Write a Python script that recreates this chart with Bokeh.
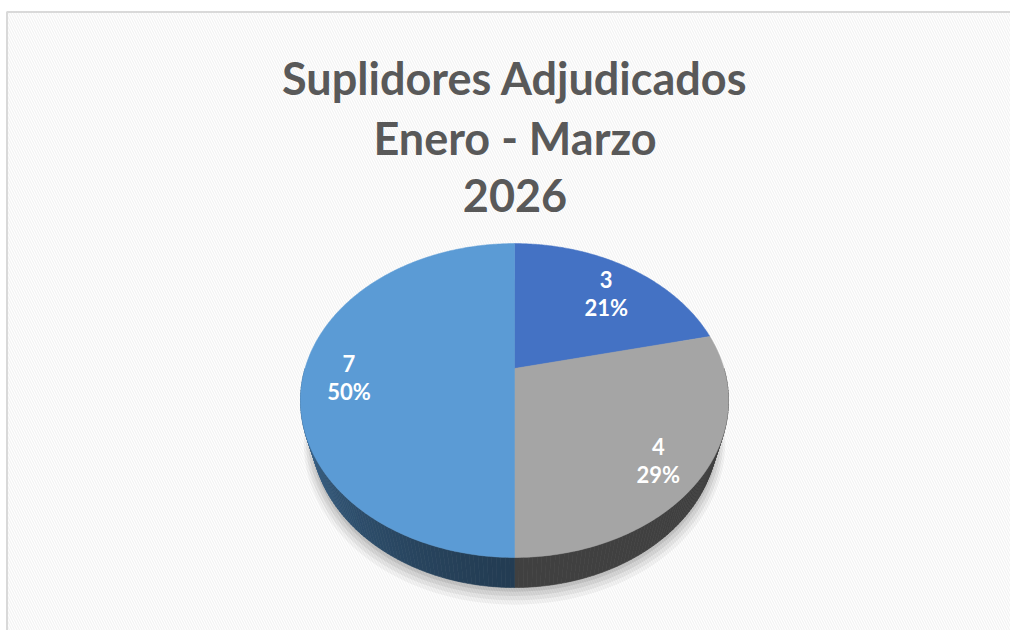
import math
from bokeh.plotting import figure
from bokeh.models import Range1d
from bokeh.core.properties import value
from bokeh.embed import file_html
from bokeh.resources import INLINE

# ---- data ----
title_lines = ["Suplidores Adjudicados", "Enero - Marzo", "2026"]
values = [3, 4, 7]
slice_colors = ["#4472C4", "#A5A5A5", "#5B9BD5"]

W, H = 1010, 630
p = figure(width=W, height=H, output_backend="svg", toolbar_location=None,
           x_range=Range1d(0, W), y_range=Range1d(H, 0), min_border=0)
p.axis.visible = False
p.grid.visible = False
p.outline_line_color = None
p.background_fill_color = "white"
p.border_fill_color = "white"

# striped chart-area background
p.quad(left=[6], right=[W + 30], top=[11], bottom=[H + 30], fill_color="white",
       hatch_pattern="\\", hatch_color="#f3f3f3", hatch_scale=5, hatch_weight=1.2,
       line_color=None)
p.segment(x0=[6], y0=[11.5], x1=[W + 30], y1=[11.5], line_color="#d9d9d9", line_width=2)
p.segment(x0=[6.5], y0=[11.5], x1=[6.5], y1=[H + 30], line_color="#d9d9d9", line_width=2)

# ---- 3D perspective pie geometry ----
cx, cy = 514.0, 368.0     # vertex of top face (px)
s = 209.5
se, ce = 0.718, 0.696
q = 0.293
h = 0.24


def proj(X, Z, Y=0.0):
    v = Y * ce + Z * se
    w = -Y * se + Z * ce
    d = 1 + q * w
    return cx + s * X / d, cy - s * v / d


def shade(hexc, f):
    r = int(hexc[1:3], 16); g = int(hexc[3:5], 16); b = int(hexc[5:7], 16)
    return "#%02x%02x%02x" % (int(r * f), int(g * f), int(b * f))


total = sum(values)
bounds = [0.0]
for v_ in values:
    bounds.append(bounds[-1] + v_ / total * 360.0)

# shadow under the pie
for (sc, dy, a) in [(1.035, 9, 0.045), (1.025, 7, 0.055), (1.015, 5, 0.065), (1.005, 3, 0.08)]:
    xs, ys = [], []
    for t in range(0, 361, 2):
        th = math.radians(t)
        x, y = proj(math.sin(th) * sc, math.cos(th) * sc, -h)
        xs.append(x); ys.append(y + dy)
    p.patch(xs, ys, fill_color="black", fill_alpha=a, line_color=None)


def side_factor(t):
    if t <= 180:
        return 0.39
    return 0.39 + 0.33 * ((t - 180) / 90.0) ** 1.3


# side walls (front half)
sx, sy, scol = [], [], []
step = 1.0
for i, v_ in enumerate(values):
    a0, a1 = max(bounds[i], 90.0), min(bounds[i + 1], 270.0)
    t = a0
    while t < a1 - 1e-9:
        t2 = min(t + step, a1)
        pts = []
        for tt, yy in [(t, 0.0), (t2, 0.0), (t2, -h), (t, -h)]:
            th = math.radians(tt)
            pts.append(proj(math.sin(th), math.cos(th), yy))
        sx.append([pp[0] for pp in pts]); sy.append([pp[1] for pp in pts])
        scol.append(shade(slice_colors[i], side_factor((t + t2) / 2)))
        t = t2
p.patches(sx, sy, fill_color=scol, line_color=scol, line_width=0.6)

# top faces
tx, ty = [], []
for i in range(len(values)):
    xs, ys = [cx], [cy]
    n = max(int((bounds[i + 1] - bounds[i]) / 0.5), 2)
    for k in range(n + 1):
        th = math.radians(bounds[i] + (bounds[i + 1] - bounds[i]) * k / n)
        x, y = proj(math.sin(th), math.cos(th))
        xs.append(x); ys.append(y)
    tx.append(xs); ty.append(ys)
p.patches(tx, ty, fill_color=slice_colors, line_color=slice_colors, line_width=0.5)

# data labels
lx, ly_v, ly_p, lv, lp = [], [], [], [], []
for i, v_ in enumerate(values):
    mid = math.radians((bounds[i] + bounds[i + 1]) / 2)
    x, y = proj(0.8 * math.sin(mid), 0.8 * math.cos(mid), -h / 4)
    lx.append(x); ly_v.append(y - 14); ly_p.append(y + 14)
    lv.append(str(v_)); lp.append("%d%%" % round(v_ / total * 100))
p.text(x=lx, y=ly_v, text=lv, text_font=value("Lato"), text_font_style="bold",
       text_font_size="22px", text_color="white", text_align="center", text_baseline="middle")
p.text(x=lx, y=ly_p, text=lp, text_font=value("Lato"), text_font_style="bold",
       text_font_size="22px", text_color="white", text_align="center", text_baseline="middle")

# title
p.text(x=[514.5] * 3, y=[77, 137, 195], text=title_lines, text_font=value("Lato"),
       text_font_style="bold", text_font_size="45px", text_color="#595959",
       text_align="center", text_baseline="alphabetic")

open("out.html", "w").write(file_html(p, INLINE))
